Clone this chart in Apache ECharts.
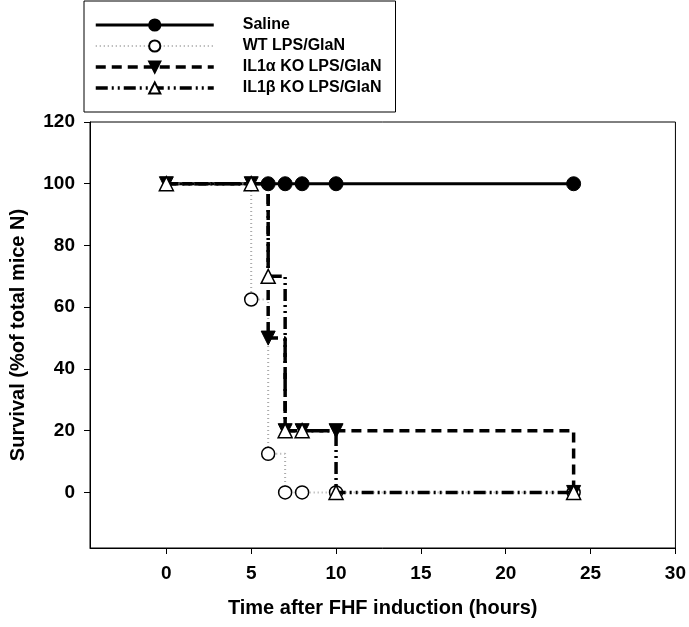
<!DOCTYPE html>
<html>
<head>
<meta charset="utf-8">
<script src="https://cdn.jsdelivr.net/npm/echarts@6/dist/echarts.min.js"></script>
<style>
  html, body { margin: 0; padding: 0; background: #fff; }
  #chart { width: 689px; height: 627px; }
</style>
</head>
<body>
<div id="chart"></div>
<script>
// survival curves, time in hours, survival in %
let salineX = [0, 6, 7, 8, 10, 24]
let salineY = [100, 100, 100, 100, 100, 100]
let wtX = [0, 5, 6, 7, 8, 10, 24]
let wtY = [100, 62.5, 12.5, 0, 0, 0, 0]
let il1aX = [0, 5, 6, 7, 8, 10, 24]
let il1aY = [100, 100, 50, 20, 20, 20, 0]
let il1bX = [0, 5, 6, 7, 8, 10, 24]
let il1bY = [100, 100, 70, 20, 20, 0, 0]
let xTicks = [0, 5, 10, 15, 20, 25, 30]
let yTicks = [0, 20, 40, 60, 80, 100, 120]
let names = ['Saline', 'WT LPS/GlaN', 'IL1\u03b1 KO LPS/GlaN', 'IL1\u03b2 KO LPS/GlaN']

var myChart = echarts.init(document.getElementById('chart'))
const font = "'Liberation Sans', Arial, Helvetica, sans-serif"

const salineLine = { color: '#000', width: 3, type: 'solid' }
const wtLine = { color: '#aaa', width: 2, type: [1, 3] }
const il1aLine = { color: '#000', width: 3.5, type: [10, 6] }
const il1bLine = { color: '#000', width: 3.5, type: [12, 4, 2, 4, 2, 4] }

function pairs(xs, ys) {
  return xs.map((x, i) => [x, ys[i]])
}

let options = {
  animation: false,
  legend: {
    orient: 'vertical',
    left: 84,
    top: 1,
    width: 300,
    padding: [16, 14, 16, 10],
    backgroundColor: '#fff',
    borderColor: '#000',
    borderWidth: 1,
    itemWidth: 118,
    itemHeight: 14,
    itemGap: 5,
    textStyle: {
      fontFamily: font,
      fontWeight: 'bold',
      fontSize: 16,
      color: '#000',
      padding: [0, 0, 0, 24]
    },
    data: [
      { name: names[0], lineStyle: salineLine },
      { name: names[1], lineStyle: wtLine },
      { name: names[2], lineStyle: il1aLine },
      { name: names[3], lineStyle: il1bLine }
    ]
  },
  grid: {
    show: true,
    left: 86,
    right: 12,
    top: 122,
    bottom: 79,
    borderColor: '#000',
    borderWidth: 1,
    containLabel: false
  },
  xAxis: {
    type: 'value',
    min: -4.5,
    max: 30,
    name: 'Time after FHF induction (hours)',
    nameLocation: 'middle',
    nameGap: 50,
    nameTextStyle: { fontFamily: font, fontWeight: 'bold', fontSize: 20, color: '#000' },
    axisLine: { onZero: false, lineStyle: { color: '#000', width: 1 } },
    axisTick: { length: 6, lineStyle: { color: '#000' }, customValues: xTicks },
    axisLabel: {
      customValues: xTicks,
      margin: 16,
      fontFamily: font,
      fontWeight: 'bold',
      fontSize: 19,
      color: '#000'
    },
    splitLine: { show: false }
  },
  yAxis: {
    type: 'value',
    min: -18,
    max: 120,
    name: 'Survival (%of total mice N)',
    nameLocation: 'middle',
    nameRotate: 90,
    nameGap: 62,
    nameTextStyle: { fontFamily: font, fontWeight: 'bold', fontSize: 20, color: '#000' },
    axisLine: { onZero: false, lineStyle: { color: '#000', width: 1 } },
    axisTick: { length: 6, lineStyle: { color: '#000' }, customValues: yTicks },
    axisLabel: {
      customValues: yTicks,
      margin: 15,
      fontFamily: font,
      fontWeight: 'bold',
      fontSize: 19,
      color: '#000'
    },
    splitLine: { show: false }
  },
  series: [
    {
      name: names[0],
      type: 'line',
      data: pairs(salineX, salineY),
      symbol: 'circle',
      // first point sits under the triangles, no marker there
      symbolSize: v => (v[0] === 0 ? 0 : 14),
      lineStyle: salineLine,
      itemStyle: { color: '#000', borderColor: '#000', borderWidth: 1 },
      z: 2
    },
    {
      name: names[1],
      type: 'line',
      step: 'end',
      data: pairs(wtX, wtY),
      symbol: 'circle',
      symbolSize: v => (v[0] === 0 ? 0 : 13),
      lineStyle: wtLine,
      itemStyle: { color: '#fff', borderColor: '#000', borderWidth: 1.5 },
      z: 3
    },
    {
      name: names[2],
      type: 'line',
      step: 'end',
      data: pairs(il1aX, il1aY),
      symbol: 'triangle',
      symbolRotate: 180,
      symbolSize: 14,
      lineStyle: il1aLine,
      itemStyle: { color: '#000', borderColor: '#000', borderWidth: 1 },
      z: 4
    },
    {
      name: names[3],
      type: 'line',
      step: 'end',
      data: pairs(il1bX, il1bY),
      symbol: 'triangle',
      symbolSize: 14,
      lineStyle: il1bLine,
      itemStyle: { color: '#fff', borderColor: '#000', borderWidth: 1.5 },
      z: 5
    }
  ]
}

myChart.setOption(options)
</script>
</body>
</html>
